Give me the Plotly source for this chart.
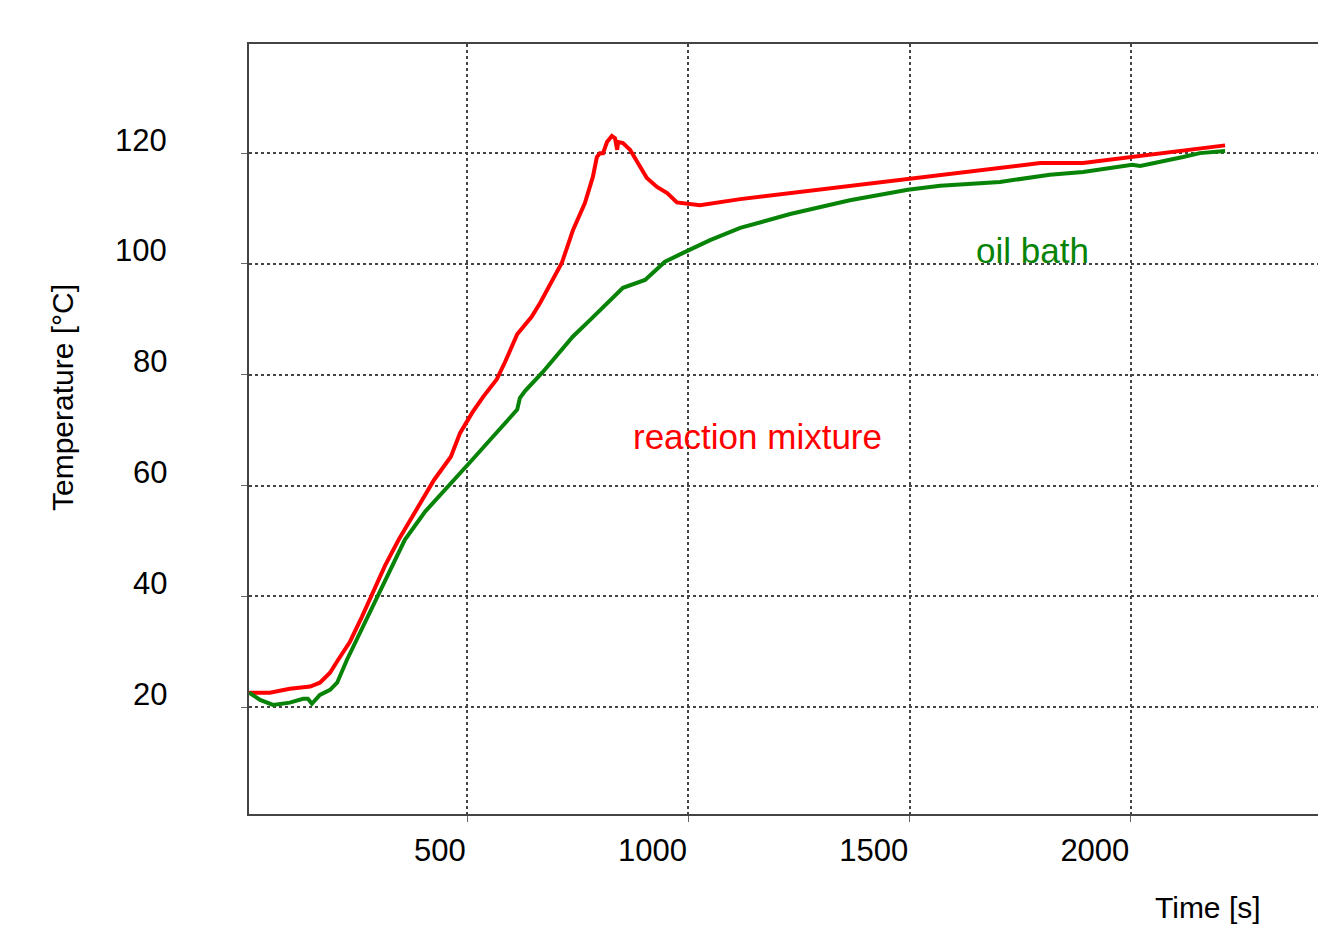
import plotly.graph_objects as go

# Reaction mixture temperature (time [s], temperature [°C])
reaction_time = [7, 54, 99, 145, 167, 190, 208, 235, 262, 285, 314, 345, 385, 425, 463, 484,
                 511, 536, 567, 585, 613, 646, 665, 694, 714, 739, 766, 784, 793, 800, 807,
                 816, 827, 834, 839, 841, 852, 868, 886, 906, 929, 952, 974, 988, 1026, 1117,
                 1252, 1365, 1496, 1614, 1704, 1795, 1892, 2003, 2082, 2156, 2213]
reaction_temp = [22.6, 22.6, 23.3, 23.7, 24.4, 26.2, 28.5, 31.8, 36.3, 40.3, 45.5, 50.2, 55.6,
                 61.0, 65.2, 69.5, 73.1, 76.0, 79.2, 82.2, 87.3, 90.5, 93.0, 97.1, 100.2, 106.1,
                 111.0, 115.7, 119.3, 120.0, 120.0, 122.0, 123.1, 122.7, 120.6, 122.0, 121.8,
                 120.6, 118.2, 115.5, 113.9, 112.8, 111.1, 111.0, 110.6, 111.7, 113.0, 114.1,
                 115.5, 116.6, 117.4, 118.2, 118.2, 119.3, 120.0, 120.9, 121.4]

# Oil bath temperature
bath_time = [7, 32, 61, 99, 129, 140, 149, 167, 190, 206, 228, 258, 298, 330, 359, 405, 450,
             479, 511, 558, 613, 619, 631, 671, 739, 778, 852, 902, 947, 988, 1049, 1117, 1230,
             1365, 1496, 1569, 1704, 1817, 1892, 2003, 2021, 2118, 2156, 2213]
bath_temp = [22.6, 21.3, 20.4, 20.8, 21.5, 21.5, 20.6, 22.2, 23.1, 24.4, 28.5, 33.4, 40.3,
             45.5, 50.2, 55.3, 59.2, 61.6, 64.6, 68.8, 73.7, 75.8, 77.1, 80.5, 86.9, 89.9,
             95.7, 97.1, 100.4, 102.0, 104.3, 106.5, 109.0, 111.5, 113.4, 114.1, 114.8, 116.1,
             116.6, 117.9, 117.7, 119.3, 120.0, 120.4]

x_ticks = [500, 1000, 1500, 2000]
y_ticks = [20, 40, 60, 80, 100, 120]

RED = "#ff0000"
GREEN = "#078407"
FONT = "Liberation Sans, Arial, sans-serif"

W, H = 1318, 927
ML, MR, MT, MB = 249, 0, 44, 113
PW, PH = W - ML - MR, H - MT - MB


def px_to_paper_x(px):
    return (px - ML) / PW


def px_to_paper_y(py):
    return (H - MB - py) / PH


fig = go.Figure()
fig.add_trace(go.Scatter(x=reaction_time, y=reaction_temp, mode="lines",
                         line=dict(color=RED, width=4), name="reaction mixture"))
fig.add_trace(go.Scatter(x=bath_time, y=bath_temp, mode="lines",
                         line=dict(color=GREEN, width=4), name="oil bath"))

# Series labels
fig.add_annotation(x=1157, y=68.8, xref="x", yref="y", text="reaction mixture",
                   showarrow=False, font=dict(family=FONT, size=35, color=RED))
fig.add_annotation(x=1777, y=102.4, xref="x", yref="y", text="oil bath",
                   showarrow=False, font=dict(family=FONT, size=35, color=GREEN))

# Y tick labels (sit above their grid lines, right-aligned)
for v in y_ticks:
    fig.add_annotation(x=px_to_paper_x(169), y=v, xref="paper", yref="y", text=str(v),
                       showarrow=False, xanchor="right", yanchor="middle", yshift=13,
                       font=dict(family=FONT, size=31, color="black"))

# Axis titles
fig.add_annotation(x=px_to_paper_x(1208), y=px_to_paper_y(907), xref="paper", yref="paper",
                   text="Time [s]", showarrow=False, xanchor="center", yanchor="middle",
                   font=dict(family=FONT, size=30, color="black"))
fig.add_annotation(x=px_to_paper_x(62), y=px_to_paper_y(398), xref="paper", yref="paper",
                   text="Temperature [°C]", textangle=-90, showarrow=False,
                   xanchor="center", yanchor="middle",
                   font=dict(family=FONT, size=30, color="black"))

fig.update_layout(
    width=W, height=H,
    margin=dict(l=ML, r=MR, t=MT, b=MB),
    plot_bgcolor="white", paper_bgcolor="white",
    showlegend=False,
    font=dict(family=FONT, size=31, color="black"),
    xaxis=dict(
        range=[6.8, 2423], tickvals=x_ticks, ticktext=[str(v) for v in x_ticks],
        showgrid=True, gridcolor="#444", griddash="dot", gridwidth=1.5,
        showline=True, linecolor="#444", linewidth=2, mirror=True,
        ticks="outside", ticklen=6, tickcolor="#666", tickwidth=1,
        ticklabelposition="outside left", ticklabelstandoff=8,
        zeroline=False,
    ),
    yaxis=dict(
        range=[0.7, 139.7], tickvals=y_ticks, showticklabels=False,
        showgrid=True, gridcolor="#444", griddash="dot", gridwidth=1.5,
        showline=True, linecolor="#444", linewidth=2, mirror=False,
        ticks="outside", ticklen=6, tickcolor="#666", tickwidth=1,
        zeroline=False,
    ),
)

fig.write_html("out.html")
